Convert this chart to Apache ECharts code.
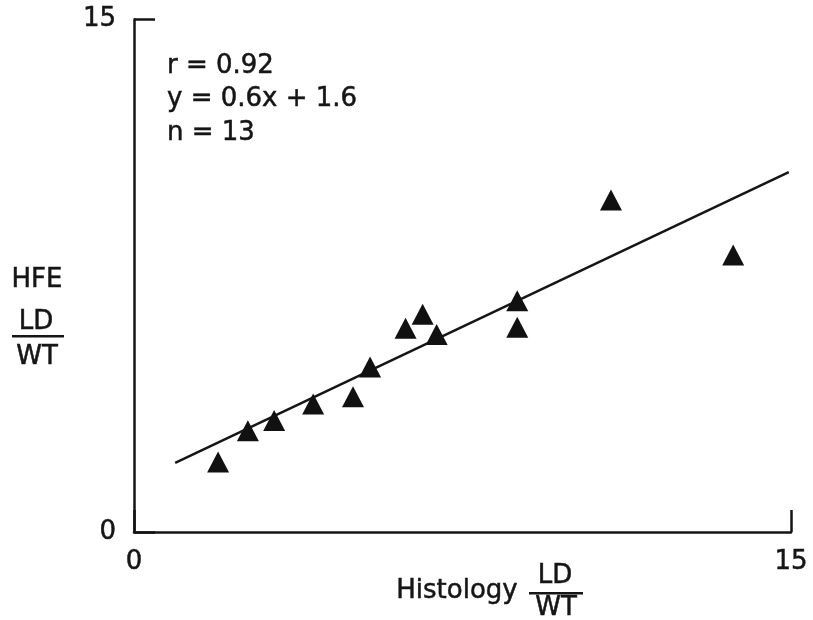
<!DOCTYPE html>
<html>
<head>
<meta charset="utf-8">
<script src="https://cdn.jsdelivr.net/npm/echarts@6/dist/echarts.min.js"></script>
<style>
  html, body { margin: 0; padding: 0; background: #fff; }
  #chart { width: 813px; height: 620px; }
</style>
</head>
<body>
<div id="chart"></div>
<script>
// histology LD/WT (x) vs HFE LD/WT (y)
const histology = [1.92, 2.6, 3.2, 4.09, 5.0, 5.39, 6.2, 6.59, 6.91, 8.75, 8.75, 10.89, 13.68]
const hfe = [2.05, 2.96, 3.26, 3.75, 3.96, 4.83, 5.96, 6.37, 5.78, 6.77, 5.99, 9.72, 8.11]
// regression line endpoints (y = 0.6x + 1.6)
const fitX = [0.94, 14.95]
const fitY = [2.02, 10.53]
const statLines = ['r = 0.92', 'y = 0.6x + 1.6', 'n = 13']

const FONT = '"DejaVu Sans", "Liberation Sans", sans-serif'
const INK = '#151515'

const chart = echarts.init(document.getElementById('chart'), null, { renderer: 'canvas' })

const points = histology.map((x, i) => [x, hfe[i]])
const fit = fitX.map((x, i) => [x, fitY[i]])

// scanned-print text looks a bit heavy, thin stroke thickens it
function txt(text, x, y, align) {
  return {
    type: 'text',
    style: {
      text, x, y,
      fill: INK,
      stroke: INK,
      lineWidth: 0.5,
      font: '26px ' + FONT,
      align: align || 'left',
      verticalAlign: 'middle'
    }
  }
}

const axisLabel = {
  color: INK,
  fontSize: 26,
  fontFamily: FONT,
  textBorderColor: INK,
  textBorderWidth: 0.5
}

const option = {
  animation: false,
  backgroundColor: '#fff',
  grid: { left: 134, right: 22, top: 19.5, bottom: 88, containLabel: false },
  xAxis: {
    type: 'value',
    min: 0, max: 15, interval: 15,
    splitLine: { show: false },
    axisLine: { lineStyle: { color: INK, width: 2.5 } },
    axisTick: { inside: true, length: 22, lineStyle: { color: INK, width: 2.5 } },
    axisLabel: Object.assign({ margin: 17 }, axisLabel)
  },
  yAxis: {
    type: 'value',
    min: 0, max: 15, interval: 15,
    splitLine: { show: false },
    axisLine: { lineStyle: { color: INK, width: 2.5 } },
    axisTick: { inside: true, length: 21, lineStyle: { color: INK, width: 2.5 } },
    axisLabel: Object.assign({ margin: 18, padding: [8, 0, 0, 0] }, axisLabel)
  },
  series: [
    {
      type: 'line',
      data: fit,
      symbol: 'none',
      lineStyle: { color: INK, width: 2.5 },
      z: 2
    },
    {
      type: 'scatter',
      data: points,
      symbol: 'triangle',
      symbolSize: [22, 21],
      itemStyle: { color: '#111', opacity: 1 },
      z: 3
    }
  ],
  graphic: [
    txt(statLines[0], 167, 66),
    txt(statLines[1], 167, 99),
    txt(statLines[2], 167, 133),
    // y axis title
    txt('HFE', 37, 280, 'center'),
    txt('LD', 36, 322, 'center'),
    { type: 'rect', shape: { x: 12, y: 335, width: 52, height: 2.5 }, style: { fill: INK } },
    txt('WT', 37, 357, 'center'),
    // x axis title
    txt('Histology', 457, 591, 'center'),
    txt('LD', 555, 576, 'center'),
    { type: 'rect', shape: { x: 529, y: 592, width: 54, height: 2.5 }, style: { fill: INK } },
    txt('WT', 556, 608, 'center')
  ]
}

chart.setOption(option)
</script>
</body>
</html>
